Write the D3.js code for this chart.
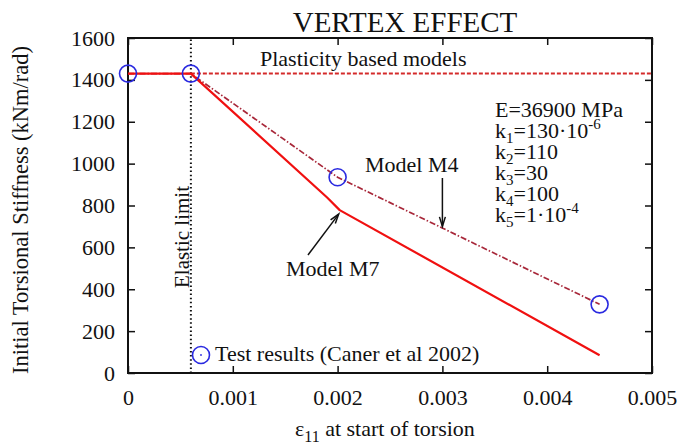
<!DOCTYPE html>
<html>
<head>
<meta charset="utf-8">
<script src="https://cdn.jsdelivr.net/npm/d3@7"></script>
<style>
  html, body { margin: 0; padding: 0; background: #fff; }
  svg text { font-family: "Liberation Serif", "Times New Roman", serif; fill: #111; }
</style>
</head>
<body>
<svg id="chart" width="695" height="445"></svg>
<script>
// Strain at start of torsion vs. initial torsional stiffness
const xTicks = [0, 0.001, 0.002, 0.003, 0.004, 0.005];
const xTickLabels = ["0", "0.001", "0.002", "0.003", "0.004", "0.005"];
const yTicks = [0, 200, 400, 600, 800, 1000, 1200, 1400, 1600];
const yTickLabels = ["0", "200", "400", "600", "800", "1000", "1200", "1400", "1600"];

// Test results (Caner et al 2002)
const testStrain = [0, 0.0006, 0.002, 0.0045];
const testStiffness = [1430, 1430, 935, 328];

// Model M7 (solid)
const m7Strain = [0, 0.0006, 0.0019, 0.00202, 0.0045];
const m7Stiffness = [1430, 1430, 838, 778, 85];

// Model M4 (dash-dot)
const m4Strain = [0, 0.0006, 0.002, 0.0045];
const m4Stiffness = [1430, 1430, 935, 328];

// Plasticity based models (dashed, constant)
const plastStrain = [0.0006, 0.005];
const plastStiffness = [1430, 1430];

const elasticLimit = 0.0006;

// Material parameters shown in the text block
const modulusText = "E=36900 MPa";
const paramSubs = ["1", "2", "3", "4", "5"];
const paramValues = ["=130·10", "=110", "=30", "=100", "=1·10"];
const paramExps = ["-6", "", "", "", "-4"];

const svg = d3.select("#chart");
const font = 22;

const x = d3.scaleLinear().domain([0, 0.005]).range([128, 652]);
const y = d3.scaleLinear().domain([0, 1600]).range([373, 38]);

// Axes: labelled bottom/left, mirrored ticks top/right, ticks pointing inward
const axBottom = svg.append("g").attr("transform", `translate(0,${y(0)})`)
  .call(d3.axisBottom(x).tickValues(xTicks).tickFormat((d, i) => xTickLabels[i])
    .tickSizeInner(-7).tickSizeOuter(0).tickPadding(16));
const axLeft = svg.append("g").attr("transform", `translate(${x(0)},0)`)
  .call(d3.axisLeft(y).tickValues(yTicks).tickFormat((d, i) => yTickLabels[i])
    .tickSizeInner(-7).tickSizeOuter(0).tickPadding(13));
const axTop = svg.append("g").attr("transform", `translate(0,${y(1600)})`)
  .call(d3.axisTop(x).tickValues(xTicks).tickFormat("").tickSizeInner(-7).tickSizeOuter(0));
const axRight = svg.append("g").attr("transform", `translate(${x(0.005)},0)`)
  .call(d3.axisRight(y).tickValues(yTicks).tickFormat("").tickSizeInner(-7).tickSizeOuter(0));

[axBottom, axLeft, axTop, axRight].forEach(g => {
  g.select(".domain").remove();
  g.selectAll(".tick line").attr("stroke", "#111").attr("stroke-width", 1.5);
  g.selectAll(".tick text").attr("font-size", font).attr("fill", "#111")
    .style("font-family", '"Liberation Serif", "Times New Roman", serif');
});

// Frame
svg.append("rect")
  .attr("x", x(0)).attr("y", y(1600))
  .attr("width", x(0.005) - x(0)).attr("height", y(0) - y(1600))
  .attr("fill", "none").attr("stroke", "#111").attr("stroke-width", 2);

// Title
svg.append("text").attr("x", 405).attr("y", 32).attr("text-anchor", "middle")
  .attr("font-size", 29).text("VERTEX EFFECT");

// Axis titles
const xt = svg.append("text").attr("x", 295).attr("y", 436).attr("font-size", font);
xt.append("tspan").text("ε");
xt.append("tspan").attr("font-size", 16).attr("dy", 6).text("11");
xt.append("tspan").attr("dy", -6).text(" at start of torsion");

svg.append("text")
  .attr("transform", "translate(28,210) rotate(-90)")
  .attr("text-anchor", "middle").attr("font-size", 22.5)
  .text("Initial Torsional Stiffness (kNm/rad)");

// Elastic limit
svg.append("line")
  .attr("x1", x(elasticLimit)).attr("x2", x(elasticLimit))
  .attr("y1", y(0)).attr("y2", y(1600))
  .attr("stroke", "#111").attr("stroke-width", 2).attr("stroke-dasharray", "1.5,2.6");
svg.append("text")
  .attr("transform", `translate(${x(elasticLimit) - 2},237) rotate(-90)`)
  .attr("text-anchor", "middle").attr("font-size", 21).text("Elastic limit");

const line = d3.line().x(d => x(d[0])).y(d => y(d[1]));

// Plasticity based models
svg.append("path")
  .attr("d", line(d3.zip(plastStrain, plastStiffness)))
  .attr("fill", "none").attr("stroke", "#d42a2a").attr("stroke-width", 2)
  .attr("stroke-dasharray", "4,2");
svg.append("text").attr("x", 260).attr("y", 66).attr("font-size", font)
  .text("Plasticity based models");

// Model M4
svg.append("path")
  .attr("d", line(d3.zip(m4Strain, m4Stiffness)))
  .attr("fill", "none").attr("stroke", "#a8283a").attr("stroke-width", 1.7)
  .attr("stroke-dasharray", "6,2,1.5,2");

// Model M7
svg.append("path")
  .attr("d", line(d3.zip(m7Strain, m7Stiffness)))
  .attr("fill", "none").attr("stroke", "#f01010").attr("stroke-width", 2.2)
  .attr("stroke-linejoin", "round");

// Test results
svg.append("g").selectAll("circle")
  .data(d3.zip(testStrain, testStiffness))
  .join("circle")
  .attr("cx", d => x(d[0])).attr("cy", d => y(d[1])).attr("r", 8.5)
  .attr("fill", "none").attr("stroke", "#2a2ae0").attr("stroke-width", 1.6);

// Legend entry for the test results
svg.append("circle").attr("cx", 201).attr("cy", 355).attr("r", 8.5)
  .attr("fill", "none").attr("stroke", "#2a2ae0").attr("stroke-width", 1.6);
svg.append("circle").attr("cx", 201).attr("cy", 355).attr("r", 0.9).attr("fill", "#2a2ae0");
svg.append("text").attr("x", 215).attr("y", 361).attr("font-size", font)
  .text("Test results (Caner et al 2002)");

// Annotations with arrows
function arrow(x1, y1, x2, y2) {
  const a = Math.atan2(y2 - y1, x2 - x1), len = 10, spread = 0.3;
  svg.append("line").attr("x1", x1).attr("y1", y1).attr("x2", x2).attr("y2", y2)
    .attr("stroke", "#111").attr("stroke-width", 1.5);
  svg.append("path")
    .attr("d", `M${x2 - len * Math.cos(a - spread)},${y2 - len * Math.sin(a - spread)}L${x2},${y2}L${x2 - len * Math.cos(a + spread)},${y2 - len * Math.sin(a + spread)}`)
    .attr("fill", "none").attr("stroke", "#111").attr("stroke-width", 1.5);
}
svg.append("text").attr("x", 365).attr("y", 172).attr("font-size", font).text("Model M4");
arrow(x(0.003), 178, x(0.003), y(700));
svg.append("text").attr("x", 286).attr("y", 276).attr("font-size", font).text("Model M7");
arrow(308, 255, x(0.00202) - 1, y(778) + 4);

// Parameter block
const px = 495, py0 = 117, dy = 21;
svg.append("text").attr("x", px).attr("y", py0).attr("font-size", font).text(modulusText);
paramSubs.forEach((s, i) => {
  const t = svg.append("text").attr("x", px).attr("y", py0 + dy * (i + 1)).attr("font-size", font);
  t.append("tspan").text("k");
  t.append("tspan").attr("font-size", 15).attr("dy", 5).text(s);
  t.append("tspan").attr("dy", -5).text(paramValues[i]);
  if (paramExps[i]) t.append("tspan").attr("font-size", 15).attr("dy", -9).text(paramExps[i]);
});
</script>
</body>
</html>
